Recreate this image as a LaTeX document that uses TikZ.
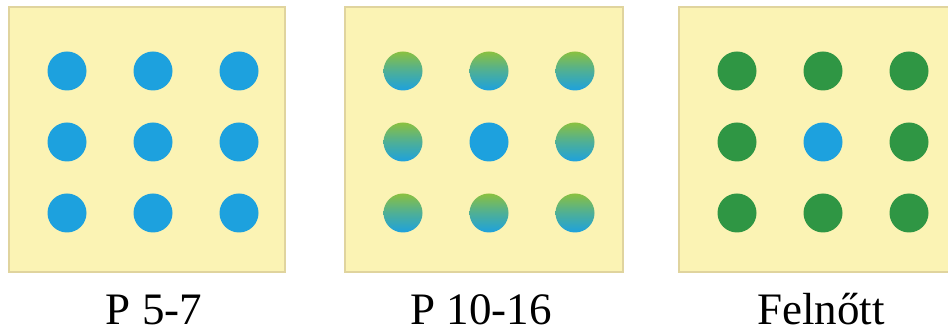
\documentclass[tikz,border=0pt]{standalone}
\usepackage{fontspec}
\setmainfont{Liberation Serif}
\usetikzlibrary{positioning}
\definecolor{PanelYellow}{RGB}{251, 243, 180}
\definecolor{PanelEdge}{RGB}{224, 212, 158}
\definecolor{CellBlue}{RGB}{29, 161, 222}
\definecolor{CellGreen}{RGB}{47, 150, 68}
\definecolor{CellLime}{RGB}{138, 192, 64}

\begin{document}
\begin{tikzpicture}[x=1pt, y=-1pt,
    panel/.style={draw=PanelEdge, fill=PanelYellow, line width=1.2pt},
    cell/.style={circle, inner sep=0pt, minimum size=39pt},
    young/.style={cell, fill=CellBlue},
    mixed/.style={cell, top color=CellLime, bottom color=CellBlue, middle color=CellLime!45!CellBlue},
    adult/.style={cell, fill=CellGreen},
    caption/.style={anchor=base, inner sep=0pt, text depth=0pt, font=\fontsize{45}{50}\selectfont}]
    \useasboundingbox (0,0) rectangle (948,336);
    \clip (0,0) rectangle (948,336);
    % P 5-7: all cells blue
    \begin{scope}[shift={(9, 7)}]
        \draw[panel] (0,0) rectangle (276,265);
        \foreach \i in {0,1,2} {
            \foreach \j in {0,1,2} {
                \node[young] (a\i\j) at (58+86*\i, 64+71*\j) {};
            }
        }
    \end{scope}
    % P 10-16: cells turning green, centre stays blue
    \begin{scope}[shift={(345, 7)}]
        \draw[panel] (0,0) rectangle (278,265);
        \foreach \i in {0,1,2} {
            \foreach \j in {0,1,2} {
                \ifnum\i\j=11
                    \node[young] (b\i\j) at (58+86*\i, 64+71*\j) {};
                \else
                    \node[mixed] (b\i\j) at (58+86*\i, 64+71*\j) {};
                \fi
            }
        }
    \end{scope}
    % Felnott: green ring, blue centre
    \begin{scope}[shift={(679, 7)}]
        \draw[panel] (0,0) rectangle (278,265);
        \foreach \i in {0,1,2} {
            \foreach \j in {0,1,2} {
                \ifnum\i\j=11
                    \node[young] (c\i\j) at (58+86*\i, 64+71*\j) {};
                \else
                    \node[adult] (c\i\j) at (58+86*\i, 64+71*\j) {};
                \fi
            }
        }
    \end{scope}
    % Captions
    \node[caption] (lab1) at (154, 325) {P 5-7};
    \node[caption] (lab2) at (481, 325) {P 10-16};
    \node[caption] (lab3) at (821, 325) {Felnőtt};
\end{tikzpicture}
\end{document}
